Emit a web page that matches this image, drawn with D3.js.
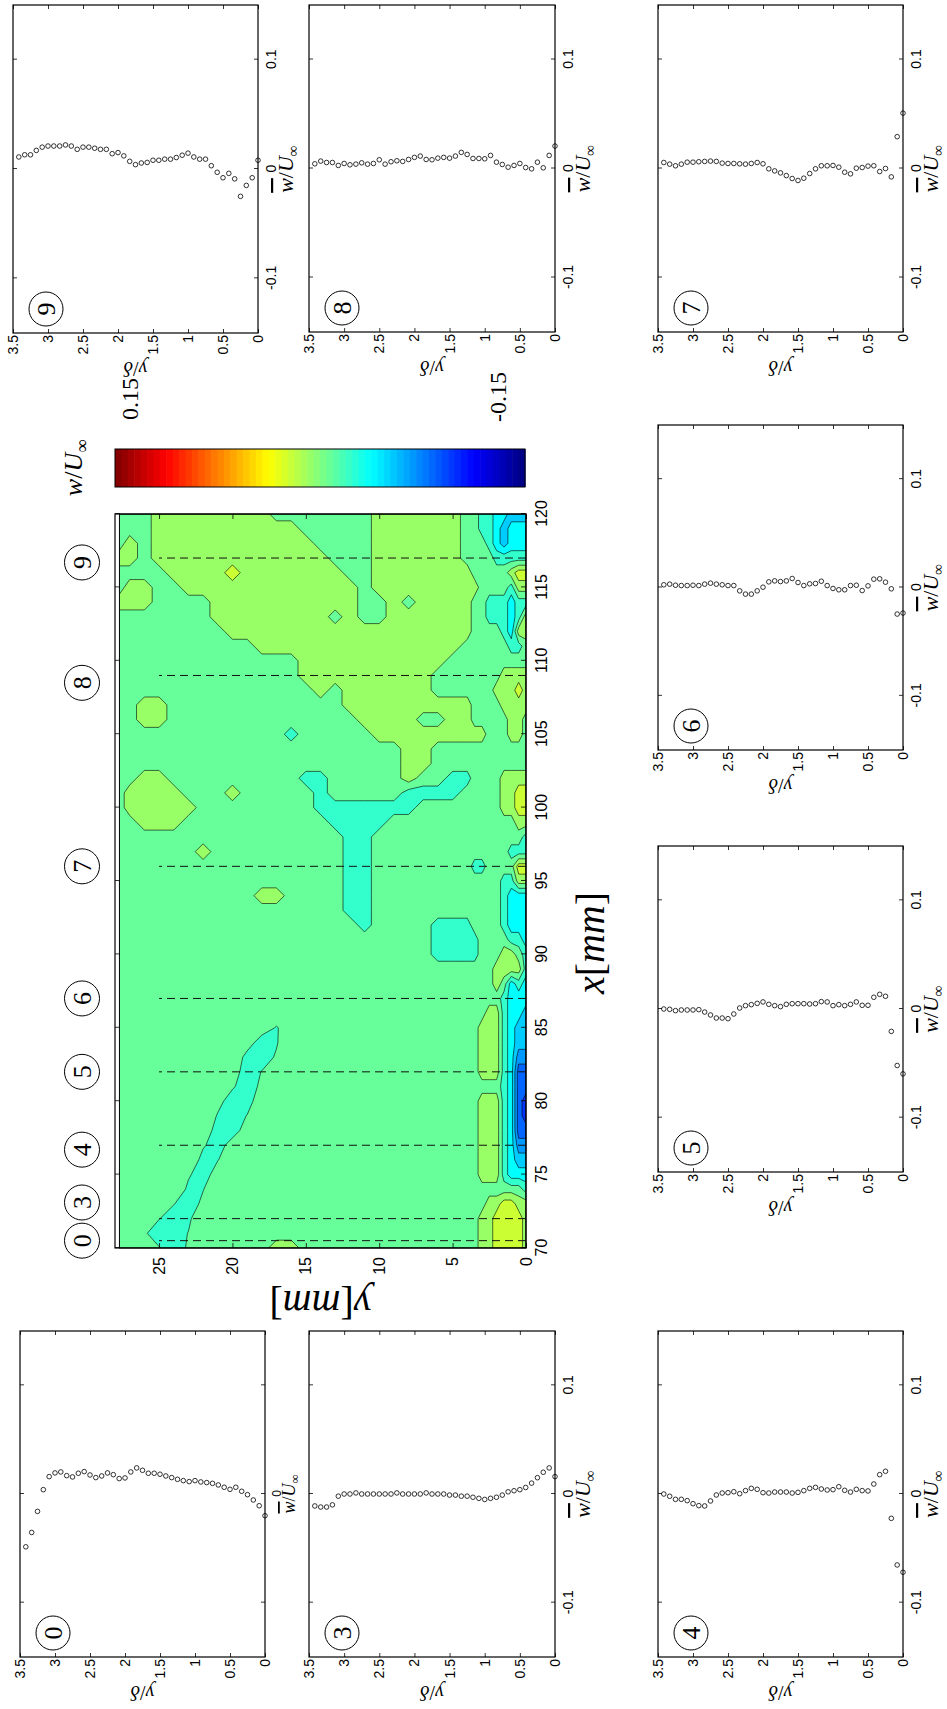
<!DOCTYPE html>
<html>
<head>
<meta charset="utf-8">
<script src="https://cdn.jsdelivr.net/npm/d3@7/dist/d3.min.js"></script>
<style>
html,body{margin:0;padding:0;background:#fff;}
svg{display:block;}
</style>
</head>
<body>
<svg id="fig" width="947" height="1709" xmlns="http://www.w3.org/2000/svg"></svg>
<script>
// ======================= DATA =======================
// wall-normal stations of the profiles (y/delta), listed from top to wall
const profileY = [3.417,3.333,3.25,3.167,3.083,3.0,2.917,2.833,2.75,2.667,2.583,2.5,2.417,2.333,2.25,2.167,2.083,2.0,1.917,1.833,1.75,1.667,1.583,1.5,1.417,1.333,1.25,1.167,1.083,1.0,0.917,0.833,0.75,0.667,0.583,0.5,0.417,0.333,0.25,0.167,0.083,0];

// mean spanwise velocity profiles  w/U_inf  (same order as profileY)
const p9 = [0.011,0.013,0.013,0.017,0.020,0.021,0.021,0.021,0.022,0.021,0.018,0.020,0.020,0.019,0.018,0.018,0.014,0.015,0.012,0.007,0.004,0.0055,0.006,0.008,0.008,0.009,0.009,0.0105,0.0126,0.0145,0.011,0.009,0.009,0.003,-0.003,-0.008,-0.004,-0.009,-0.025,-0.015,-0.008,0.008];
const p8 = [0.0043,0.0068,0.0055,0.0055,0.0028,0.0046,0.0034,0.004,0.0052,0.004,0.0046,0.008,0.004,0.0062,0.0071,0.0065,0.0083,0.0102,0.0114,0.0083,0.008,0.0095,0.0102,0.0095,0.0114,0.0148,0.0129,0.0092,0.0092,0.0089,0.012,0.0058,0.0037,0.0012,0.0028,0.0046,0.0009,-0.0003,0.0058,0.0006,0.012,0.0206];
const p7 = [0.0055,0.004,0.0025,0.004,0.0058,0.0058,0.0062,0.0065,0.0068,0.0065,0.0049,0.0046,0.0046,0.0043,0.004,0.0046,0.0055,0.0043,-0.0003,-0.0022,-0.004,-0.0065,-0.0092,-0.011,-0.0089,-0.0046,-0.0003,0.0025,0.0025,0.0028,0.0012,-0.0034,-0.0049,0.0003,0.0009,0.0022,0.0025,-0.0028,0,-0.0077,0.0292,0.0508];
const p6 = [0.0025,0.0031,0.0021,0.0018,0.0018,0.0021,0.0018,0.0031,0.004,0.0031,0.0025,0.0018,0.0018,-0.0031,-0.0061,-0.0061,-0.0031,0.0003,0.0052,0.0061,0.0055,0.0061,0.0083,0.0046,0.0018,0.0034,0.0037,0.0058,0.0018,-0.0009,-0.0021,-0.0021,0.0018,0.0021,-0.0028,0.0015,0.0077,0.008,0.0049,-0.0012,-0.0245,-0.0236];
const p5 = [0,-0.0003,-0.0015,-0.0009,-0.0009,-0.0009,-0.0006,-0.0028,-0.0055,-0.0083,-0.0083,-0.0089,-0.0046,0.0009,0.0031,0.004,0.0052,0.0065,0.0043,0.0031,0.0022,0.0043,0.0049,0.0049,0.0049,0.0046,0.0049,0.0068,0.0065,0.0031,0.004,0.0031,0.0043,0.0065,0.0034,0.0034,0.0108,0.0135,0.0117,-0.0206,-0.052,-0.0597];
const p4 = [0,-0.0021,-0.0049,-0.0049,-0.0061,-0.0089,-0.0107,-0.011,-0.0064,-0.0009,0.0009,0.0012,0.0021,0.0003,0.0031,0.0052,0.0043,0.0012,0.0009,0.0018,0.0018,0.0018,0.0009,0.0015,0.0031,0.0052,0.0061,0.0046,0.0037,0.004,0.0067,0.0034,0.0018,0.0043,0.0031,0.0028,0.0092,0.0178,0.0209,-0.0224,-0.0653,-0.072];
const p3 = [-0.011,-0.012,-0.012,-0.010,-0.002,0,0,0.001,0,0,0,0,0,0,0.001,0,0,0,0,0.001,0,0,0,-0.001,-0.001,-0.002,-0.002,-0.003,-0.004,-0.005,-0.004,-0.003,-0.001,0.002,0.003,0.004,0.006,0.010,0.015,0.020,0.024,0.016];
const p0 = [-0.0486,-0.0354,-0.016,0.004,0.016,0.0194,0.0203,0.0169,0.0157,0.0191,0.0206,0.0175,0.0151,0.0166,0.0194,0.0178,0.0142,0.0148,0.0203,0.024,0.0218,0.0191,0.0191,0.0182,0.0166,0.0151,0.0135,0.0123,0.0114,0.0123,0.0111,0.0105,0.0098,0.0083,0.0062,0.0043,0.0062,0.0025,-0.0006,-0.0055,-0.0108,-0.02];

// profile axes ticks
const wTicks = [-0.1, 0, 0.1];
const wTickLabels = ['-0.1', '0', '0.1'];
const dTicks = [0, 0.5, 1, 1.5, 2, 2.5, 3, 3.5];
const dTickLabels = ['0', '0.5', '1', '1.5', '2', '2.5', '3', '3.5'];

// contour map: streamwise stations x [mm] (columns) and wall distance y [mm] (rows, top to wall)
const mapX = [70,71,72,73,74,75,76,77,78,79,80,81,82,83,84,85,86,87,88,89,90,91,92,93,94,95,96,97,98,99,100,101,102,103,104,105,106,107,108,109,110,111,112,113,114,115,116,117,118,119,120];
const mapY = [27.7,27,26,25,24,23,22,21,20,19,18,17,16,15,14,13,12,11,10,9,8,7,6,5,4,3.5,3,2.5,2,1.5,1,0.5,0];
// w/U_inf class of every grid node, run-length coded per row (count + class letter)
const mapRows = [
 "44.1g2.1g3.",
 "30.2g12.2g1.2g2.",
 "29.4g3.2g6.2g5.",
 "1.1a27.4g3.2g9.4g",
 "3a26.3g14.5g",
 "1.4a25.1g14.6g",
 "4.3a20.1g17.6g",
 "6.4a33.8g",
 "8.3a20.1g10.4g1y4g",
 "10.4a28.9g",
 "12.3a9.1g16.10g",
 "1g13.1a9.1g16.9g1.",
 "1g34.1a5.9g1.",
 "32.1a6.10g2.",
 "30.3a5.10g3.",
 "29.2a8.4g1.3g4.",
 "23.8a6.9g5.",
 "22.9a5.7g8.",
 "29.2a4.8g2.6g",
 "30.1a4.16g",
 "30.2a12g1.6g",
 "31.1a1.3g1.14g",
 "20.3a8.1a3.1g1.1g2.11g",
 "20.3a8.2a2.3g3.10g",
 "20.3a9.1a2.3g4.5g4.",
 "20.2a4.1a8.1g9.1g5.",
 "3g2.6g1.4g10.1a8.1g13.2a",
 "4g1.6g1.5g26.2a3.3a",
 "3y1g1.6g1.5g1.2g18.1g4.2a2.1a3c",
 "4y1.13a1.2g1.4a4.3g4.3g2.3a2.1a2l1c",
 "4y1.14c2g1a3c1a1.1a2.3g2.5g1.1a3c1a1g1a2c1l",
 "3y1g1.1c1l1b5B1b2l2c1a1g1.1a3c1g1y1a1.1g2y1g2.3g1y1g1.1a1g2a1g1y1a2c1l",
 "4g1a1c1l1b1B2D2B1b3l2c2a4c1g1y2a1g2y1g4.3g2.2g1a1g1y1a2c1l"
];
// value (w/U_inf) represented by each class letter
const classValue = {'.': -0.007, 'g': 0.008, 'y': 0.023, 'Y': 0.038, 'a': -0.022, 'c': -0.038, 'l': -0.053, 'b': -0.068, 'B': -0.083, 'D': -0.098};
// finer node values along the inclined negative streak (x [mm], y [mm], w/U_inf)
const streakNodes = [
 [70,23,-0.0133],[70,24,-0.022],[70,25,-0.0142],
 [71,23,-0.0145],[71,24,-0.022],[71,25,-0.022],[71,26,-0.0133],
 [72,22,-0.003],[72,23,-0.018],[72,24,-0.022],[72,25,-0.0145],
 [73,22,-0.012],[73,23,-0.022],[73,24,-0.0145],
 [74,22,-0.0155],[74,23,-0.018],[74,24,-0.003],
 [75,21,-0.008],[75,22,-0.022],[75,23,-0.0133],
 [76,21,-0.0155],[76,22,-0.0201],[76,23,-0.003],
 [77,20,-0.008],[77,21,-0.022],[77,22,-0.0133],
 [78,19,-0.008],[78,20,-0.022],[78,21,-0.022],[78,22,-0.0045],
 [79,19,-0.0145],[79,20,-0.022],[79,21,-0.0163],[79,22,-0.003],
 [80,18,-0.0045],[80,19,-0.022],[80,20,-0.022],[80,21,-0.0103],
 [81,18,-0.012],[81,19,-0.022],[81,20,-0.0133],
 [82,18,-0.0145],[82,19,-0.022],[82,20,-0.008],
 [83,17,-0.0133],[83,18,-0.022],[83,19,-0.0201],[83,20,-0.003],
 [84,16,-0.003],[84,17,-0.0163],[84,18,-0.022],[84,19,-0.008],
 [85,16,-0.008],[85,17,-0.016],[85,18,-0.008]
];
const levels = [-0.09, -0.075, -0.06, -0.045, -0.03, -0.015, 0, 0.015, 0.03];
const xmmTicks = [70, 75, 80, 85, 90, 95, 100, 105, 110, 115, 120];
const ymmTicks = [0, 5, 10, 15, 20, 25];

// measurement stations (dashed lines) and their labels
const stationX = [70.5, 72, 77, 82, 87, 96, 109, 117];
const stationLabel = ['0', '3', '4', '5', '6', '7', '8', '9'];
const stationLabelX = [70.5, 73.1, 76.7, 82, 87, 96, 108.5, 116.7];

// colour bar
const cbLimits = [-0.15, 0.15];
const cbLabels = ['0.15', '-0.15'];

// ======================= DRAWING =======================
const SANS = '"Liberation Sans", Arial, Helvetica, sans-serif';
const SERIF = '"Liberation Serif", "Times New Roman", serif';
const svg = d3.select('#fig');
// the whole figure is drawn upright (1709 wide x 947 high) and turned 90 deg anticlockwise
const root = svg.append('g').attr('transform', 'translate(0,1709) rotate(-90)');

function jet(t) {
  const c = v => Math.max(0, Math.min(1, v));
  return d3.rgb(255 * c(Math.min(4 * t - 1.5, -4 * t + 4.5)),
                255 * c(Math.min(4 * t - 0.5, -4 * t + 3.5)),
                255 * c(Math.min(4 * t + 0.5, -4 * t + 2.5))).formatHex();
}
const cval = v => jet((v - cbLimits[0]) / (cbLimits[1] - cbLimits[0]));

function mathText(sel, parts, size) {
  const t = sel.append('text').attr('font-family', SERIF).attr('font-size', size).attr('fill', '#000');
  parts.forEach(p => {
    const s = t.append('tspan').text(p.t);
    if (p.i) s.attr('font-style', 'italic');
    if (p.over) s.attr('text-decoration', 'overline');
    if (p.sub) s.attr('font-size', size * 0.7).attr('dy', size * 0.22);
  });
  return t;
}
const wbarParts = [{t: 'w', i: true, over: true}, {t: '/'}, {t: 'U', i: true}, {t: '\u221E', sub: true}];

function styleAxis(s, fs) {
  s.attr('font-family', SANS).attr('font-size', fs);
  s.select('.domain').remove();
  s.selectAll('line').attr('stroke', '#000').attr('stroke-width', 0.8);
  s.selectAll('text').attr('fill', '#000');
}

// ---------- profile panels ----------
const panels = [
  {id: '9', data: p9, u0: 1376, u1: 1704, v0: 13, v1: 258},
  {id: '8', data: p8, u0: 1377, u1: 1704, v0: 309, v1: 555},
  {id: '7', data: p7, u0: 1377, u1: 1704, v0: 658, v1: 903},
  {id: '6', data: p6, u0: 959, u1: 1284, v0: 658, v1: 903},
  {id: '5', data: p5, u0: 537, u1: 863, v0: 658, v1: 903},
  {id: '4', data: p4, u0: 52, u1: 378, v0: 658, v1: 903},
  {id: '3', data: p3, u0: 52, u1: 378, v0: 309, v1: 555},
  {id: '0', data: p0, u0: 52, u1: 378, v0: 20, v1: 265, compact: true}
];

panels.forEach(p => {
  const g = root.append('g');
  const x = d3.scaleLinear().domain([-0.15, 0.15]).range([p.u0, p.u1]);
  const y = d3.scaleLinear().domain([0, 3.5]).range([p.v1, p.v0]);
  const fs = p.compact ? 12 : 14;
  g.append('g').attr('transform', `translate(0,${p.v1})`)
    .call(d3.axisBottom(x).tickValues(wTicks).tickSizeInner(-4).tickSizeOuter(0).tickPadding(p.compact ? 7 : 8)
      .tickFormat((d, i) => p.compact ? (d === 0 ? '0' : '') : wTickLabels[i]))
    .call(s => styleAxis(s, fs));
  g.append('g').attr('transform', `translate(0,${p.v0})`)
    .call(d3.axisTop(x).tickValues(wTicks).tickSizeInner(-4).tickSizeOuter(0).tickFormat(''))
    .call(s => styleAxis(s, fs));
  g.append('g').attr('transform', `translate(${p.u0},0)`)
    .call(d3.axisLeft(y).tickValues(dTicks).tickSizeInner(-4).tickSizeOuter(0).tickPadding(2)
      .tickFormat((d, i) => dTickLabels[i]))
    .call(s => styleAxis(s, 14));
  g.append('g').attr('transform', `translate(${p.u1},0)`)
    .call(d3.axisRight(y).tickValues(dTicks).tickSizeInner(-4).tickSizeOuter(0).tickFormat(''))
    .call(s => styleAxis(s, 14));
  g.append('rect').attr('x', p.u0).attr('y', p.v0).attr('width', p.u1 - p.u0).attr('height', p.v1 - p.v0)
    .attr('fill', 'none').attr('stroke', '#000').attr('stroke-width', 1.2);
  g.selectAll('circle.pt').data(d3.zip(p.data, profileY)).join('circle').attr('class', 'pt')
    .attr('cx', d => x(d[0])).attr('cy', d => y(d[1])).attr('r', 2.3)
    .attr('fill', 'none').attr('stroke', '#000').attr('stroke-width', 0.8);
  // station badge
  g.append('circle').attr('cx', p.u0 + 24).attr('cy', p.v0 + 33).attr('r', 17)
    .attr('fill', 'none').attr('stroke', '#000').attr('stroke-width', 1);
  g.append('text').attr('x', p.u0 + 24).attr('y', p.v0 + 42).attr('text-anchor', 'middle')
    .attr('font-family', SERIF).attr('font-size', 26).text(p.id);
  // axis labels
  mathText(g, wbarParts, p.compact ? 18 : 22)
    .attr('x', (p.u0 + p.u1) / 2).attr('y', p.v1 + (p.compact ? 30 : 35)).attr('text-anchor', 'middle');
  mathText(g, [{t: 'y', i: true}, {t: '/'}, {t: '\u03B4', i: true}], 20)
    .attr('text-anchor', 'middle')
    .attr('transform', `translate(${p.u0 - 29},${(p.v0 + p.v1) / 2}) rotate(-90)`);
});

// ---------- contour map ----------
const cx = d3.scaleLinear().domain([70, 120]).range([461, 1195]);
const cy = d3.scaleLinear().domain([0, 28]).range([526, 115]);
const nx = mapX.length, ny = mapY.length;
const values = [];
mapRows.forEach((r, j) => {
  const row = [];
  for (const m of r.matchAll(/(\d+)(\D)/g)) for (let k = 0; k < +m[1]; k++) row.push(classValue[m[2]]);
  if (row.length !== nx) console.error('row ' + j + ' has ' + row.length);
  for (let k = 0; k < nx; k++) values.push(row[Math.min(k, row.length - 1)]);
});
streakNodes.forEach(([x, y, v]) => {
  const i = mapX.indexOf(x), j = mapY.indexOf(y);
  if (i >= 0 && j >= 0) values[j * nx + i] = v;
});
const ix = d3.scaleLinear().domain(d3.range(nx)).range(mapX).clamp(true);
const iy = d3.scaleLinear().domain(d3.range(ny)).range(mapY).clamp(true);
const proj = d3.geoTransform({point(px, py) { this.stream.point(cx(ix(px - 0.5)), cy(iy(py - 0.5))); }});
const gpath = d3.geoPath(proj);
const cont = d3.contours().size([nx, ny]).thresholds(levels)(values);

const mapG = root.append('g');
svg.append('defs').append('clipPath').attr('id', 'mapclip').append('rect')
  .attr('x', cx(70)).attr('y', cy(mapY[0])).attr('width', cx(120) - cx(70)).attr('height', cy(0) - cy(mapY[0]));
const fillG = mapG.append('g').attr('clip-path', 'url(#mapclip)');
fillG.append('rect').attr('x', cx(70)).attr('y', cy(mapY[0])).attr('width', cx(120) - cx(70)).attr('height', cy(0) - cy(mapY[0]))
  .attr('fill', cval(levels[0] - 0.0075));
fillG.selectAll('path.lev').data(cont).join('path').attr('class', 'lev')
  .attr('d', gpath).attr('fill', d => cval(d.value + 0.0075))
  .attr('stroke', '#000').attr('stroke-width', 0.6).attr('stroke-linejoin', 'round');
mapG.append('rect').attr('x', cx(70)).attr('y', cy(mapY[0])).attr('width', cx(120) - cx(70)).attr('height', cy(0) - cy(mapY[0]))
  .attr('fill', 'none').attr('stroke', '#000').attr('stroke-width', 0.9);

// dashed station lines
mapG.selectAll('line.st').data(stationX).join('line').attr('class', 'st')
  .attr('x1', d => cx(d)).attr('x2', d => cx(d)).attr('y1', cy(0)).attr('y2', cy(25))
  .attr('stroke', '#111').attr('stroke-width', 1).attr('stroke-dasharray', '8,5');

// axes of the map
mapG.append('g').attr('transform', `translate(0,${cy(0)})`)
  .call(d3.axisBottom(cx).tickValues(xmmTicks).tickSizeInner(-5).tickSizeOuter(0).tickPadding(10))
  .call(s => styleAxis(s, 16));
mapG.append('g').attr('transform', `translate(0,${cy(28)})`)
  .call(d3.axisTop(cx).tickValues(xmmTicks).tickSizeInner(-5).tickSizeOuter(0).tickFormat(''))
  .call(s => styleAxis(s, 16));
mapG.append('g').attr('transform', `translate(${cx(70)},0)`)
  .call(d3.axisLeft(cy).tickValues(ymmTicks).tickSizeInner(-5).tickSizeOuter(0).tickPadding(9))
  .call(s => styleAxis(s, 16));
mapG.append('g').attr('transform', `translate(${cx(120)},0)`)
  .call(d3.axisRight(cy).tickValues(ymmTicks).tickSizeInner(-5).tickSizeOuter(0).tickFormat(''))
  .call(s => styleAxis(s, 16));
mapG.append('rect').attr('x', cx(70)).attr('y', cy(28)).attr('width', cx(120) - cx(70)).attr('height', cy(0) - cy(28))
  .attr('fill', 'none').attr('stroke', '#000').attr('stroke-width', 1.2);

// station badges above the map
stationLabelX.forEach((sx, i) => {
  mapG.append('circle').attr('cx', cx(sx)).attr('cy', 82).attr('r', 17.5)
    .attr('fill', 'none').attr('stroke', '#000').attr('stroke-width', 1);
  mapG.append('text').attr('x', cx(sx)).attr('y', 91).attr('text-anchor', 'middle')
    .attr('font-family', SERIF).attr('font-size', 26).text(stationLabel[i]);
});

// axis titles
mathText(mapG, [{t: 'x', i: true}, {t: '['}, {t: 'mm', i: true}, {t: ']'}], 40)
  .attr('x', 766).attr('y', 604).attr('text-anchor', 'middle');
mathText(mapG, [{t: 'y', i: true}, {t: '['}, {t: 'mm', i: true}, {t: ']'}], 40)
  .attr('text-anchor', 'middle').attr('transform', `translate(418,${(cy(0) + cy(28)) / 2}) rotate(-90)`);

// ---------- colour bar ----------
const cbU0 = 1222, cbU1 = 1260;
const cbScale = d3.scaleLinear().domain([cbLimits[1], cbLimits[0]]).range([115, 525]);
const nBands = 64;
const bandVals = d3.range(nBands).map(k => cbLimits[1] - (k + 0.5) * (cbLimits[1] - cbLimits[0]) / nBands);
const bandH = (cbScale(cbLimits[0]) - cbScale(cbLimits[1])) / nBands;
root.append('g').selectAll('rect').data(bandVals).join('rect')
  .attr('x', cbU0).attr('width', cbU1 - cbU0)
  .attr('y', d => cbScale(d) - bandH / 2).attr('height', bandH + 0.6)
  .attr('fill', d => cval(d));
root.append('rect').attr('x', cbU0).attr('y', 115).attr('width', cbU1 - cbU0).attr('height', 410)
  .attr('fill', 'none').attr('stroke', '#000').attr('stroke-width', 1);
root.append('text').attr('x', 1289).attr('y', cbScale(cbLimits[1]) + 23).attr('font-family', SERIF).attr('font-size', 24).text(cbLabels[0]);
root.append('text').attr('x', 1287).attr('y', cbScale(cbLimits[0]) - 19).attr('font-family', SERIF).attr('font-size', 24).text(cbLabels[1]);
mathText(root, [{t: 'w', i: true}, {t: '/'}, {t: 'U', i: true}, {t: '\u221E', sub: true}], 26)
  .attr('x', 1241).attr('y', 82).attr('text-anchor', 'middle');
</script>
</body>
</html>
